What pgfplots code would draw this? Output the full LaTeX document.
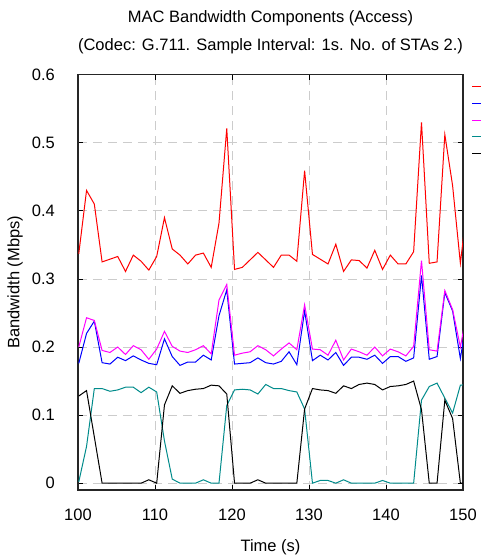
\documentclass[border=0pt]{standalone}
\usepackage{fontspec}
\setmainfont{Liberation Sans}
\usepackage{pgfplots}
\pgfplotsset{compat=1.18}
\usepackage{pgfplotstable}

\definecolor{redc}{RGB}{255,0,0}
\definecolor{bluec}{RGB}{0,0,255}
\definecolor{magc}{RGB}{255,0,255}
\definecolor{tealc}{RGB}{0,139,139}

\pgfplotstableread{
x      red   blue  mag   teal  black
100.10 0.337 0.176 0.200 0.002 0.128
101.11 0.430 0.220 0.243 0.054 0.136
102.12 0.410 0.238 0.239 0.139 0.068
103.13 0.325 0.177 0.195 0.139 0.000
104.15 0.329 0.175 0.192 0.135 0.000
105.16 0.333 0.185 0.200 0.137 0.000
106.17 0.311 0.180 0.189 0.141 0.000
107.18 0.335 0.187 0.202 0.141 0.000
108.19 0.326 0.181 0.196 0.133 0.000
109.20 0.313 0.176 0.182 0.141 0.005
110.22 0.333 0.174 0.197 0.134 0.000
111.23 0.390 0.212 0.223 0.062 0.115
112.24 0.344 0.186 0.201 0.006 0.143
113.25 0.335 0.173 0.194 0.000 0.132
114.26 0.322 0.178 0.192 0.000 0.136
115.27 0.335 0.178 0.196 0.000 0.138
116.28 0.338 0.188 0.202 0.005 0.139
117.30 0.317 0.181 0.190 0.000 0.144
118.31 0.382 0.246 0.269 0.000 0.143
119.32 0.521 0.284 0.292 0.114 0.131
120.33 0.314 0.175 0.188 0.137 0.000
121.34 0.317 0.176 0.191 0.138 0.000
122.35 0.328 0.177 0.193 0.137 0.000
123.36 0.339 0.184 0.202 0.131 0.005
124.38 0.328 0.177 0.196 0.145 0.000
125.39 0.317 0.175 0.187 0.139 0.000
126.40 0.335 0.179 0.197 0.139 0.000
127.41 0.335 0.193 0.206 0.136 0.000
128.42 0.326 0.174 0.196 0.134 0.000
129.43 0.459 0.253 0.262 0.109 0.109
130.45 0.336 0.180 0.197 0.000 0.139
131.46 0.329 0.188 0.196 0.004 0.137
132.47 0.322 0.181 0.188 0.004 0.136
133.48 0.351 0.192 0.210 0.000 0.132
134.49 0.311 0.173 0.181 0.005 0.143
135.50 0.328 0.185 0.197 0.000 0.139
136.51 0.327 0.185 0.193 0.000 0.145
137.53 0.316 0.182 0.188 0.000 0.147
138.54 0.342 0.188 0.200 0.000 0.145
139.55 0.314 0.176 0.187 0.004 0.137
140.56 0.335 0.186 0.197 0.000 0.142
141.57 0.322 0.186 0.193 0.000 0.143
142.58 0.322 0.179 0.187 0.000 0.145
143.59 0.340 0.184 0.201 0.000 0.150
144.61 0.530 0.305 0.327 0.122 0.108
145.62 0.323 0.182 0.196 0.142 0.000
146.63 0.325 0.186 0.194 0.147 0.000
147.64 0.512 0.280 0.283 0.125 0.122
148.65 0.437 0.253 0.255 0.103 0.095
149.66 0.323 0.183 0.200 0.144 0.000
150.67 0.420 0.255 0.262 0.145 0.000
}\datatable

\begin{document}
\fontsize{16.5}{19.8}\selectfont
\begin{tikzpicture}
\begin{axis}[
  scale only axis, width=385pt, height=415.3pt,
  at={(0pt,0pt)}, anchor=south west,
  xmin=100, xmax=150, ymin=-0.01, ymax=0.6,
  xtick={100,110,120,130,140,150},
  ytick={0,0.1,0.2,0.3,0.4,0.5,0.6},
  grid=major,
  major grid style={dash pattern=on 9pt off 6pt, line width=0.8pt, color=black!20},
  tick align=inside, major tick length=5pt,
  tick style={line width=0.8pt, black},
  axis line style={line width=1.2pt, black!85},
  font=\fontsize{16.5}{19.8}\selectfont,
  /pgf/number format/assume math mode=true,
  xticklabel style={anchor=base, yshift=-30pt, inner sep=0pt},
  yticklabel style={anchor=east, xshift=-23pt, inner sep=0pt},
  xlabel={Time (s)},
  xlabel style={at={(axis description cs:0.5,0)}, anchor=base, yshift=-61pt, inner sep=0pt},
  ylabel={Bandwidth (Mbps)},
  ylabel style={at={(axis description cs:-0.16364,0.5)}, anchor=center, inner sep=0pt},
  legend style={at={(axis description cs:1.02338,0.9904)}, anchor=north west,
    draw=none, fill=none, inner sep=0pt, outer sep=0pt, row sep=0.4pt, column sep=0pt,
    nodes={inner sep=0pt, text height=12pt, text depth=4.3pt}},
  legend image code/.code={\draw[#1] (0pt,0pt) -- (25pt,0pt);},
  every axis plot/.append style={line width=1pt},
]
\addplot[redc] table[x=x, y=red] {\datatable};
\addlegendentry{\mbox{}}
\addplot[bluec] table[x=x, y=blue] {\datatable};
\addlegendentry{\mbox{}}
\addplot[magc] table[x=x, y=mag] {\datatable};
\addlegendentry{\mbox{}}
\addplot[tealc] table[x=x, y=teal] {\datatable};
\addlegendentry{\mbox{}}
\addplot[black] table[x=x, y=black] {\datatable};
\addlegendentry{\mbox{}}
\end{axis}
\node[anchor=base, inner sep=0pt] at (192.5pt,467pt) {MAC Bandwidth Components (Access)};
\node[anchor=base, inner sep=0pt] at (192.5pt,439pt) {(Codec: G.711. Sample Interval: 1s. No. of STAs 2.)};
\pgfresetboundingbox
\useasboundingbox (-78pt,-69pt) rectangle (403pt,490pt);
\end{tikzpicture}
\end{document}
